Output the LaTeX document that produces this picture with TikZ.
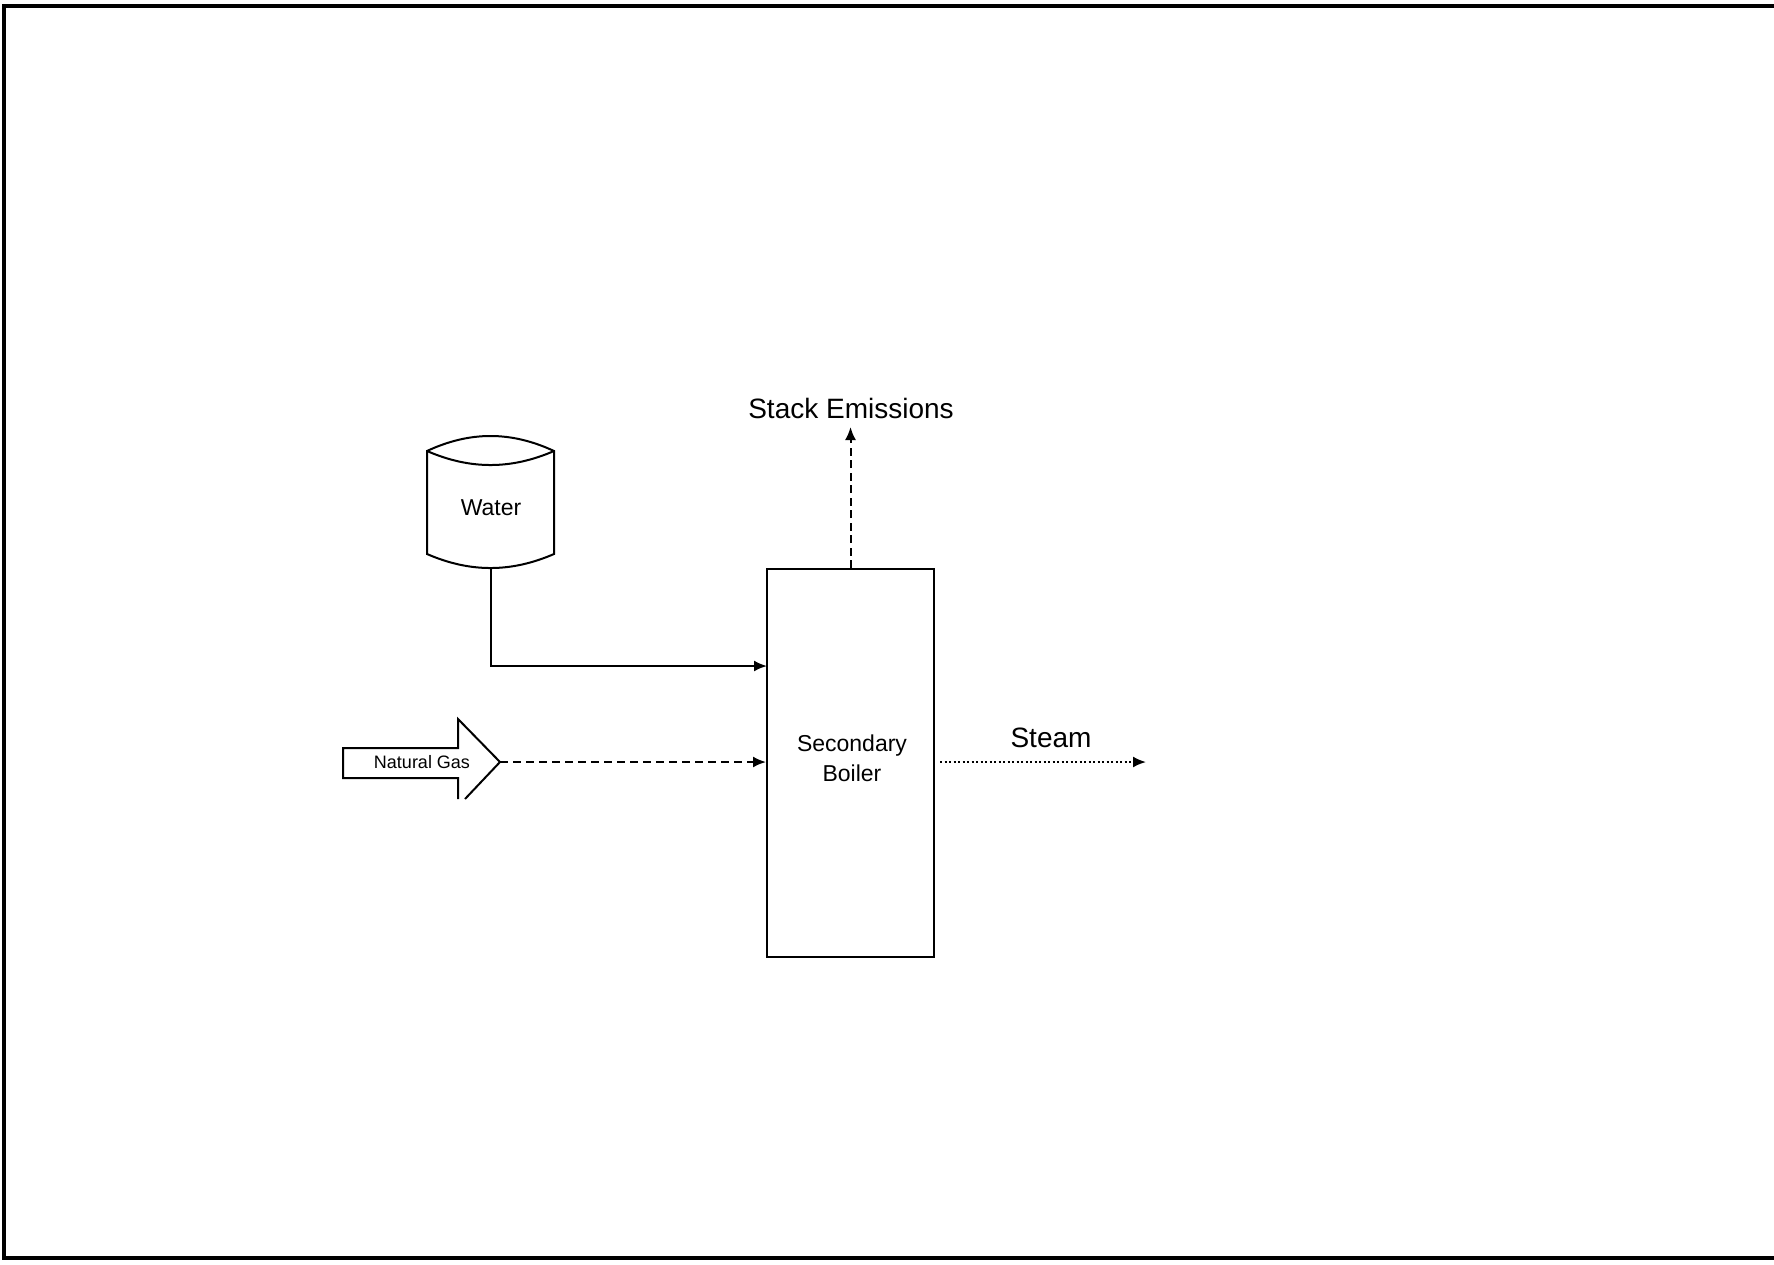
\documentclass[tikz,border=0pt]{standalone}
\usepackage{fontspec}
\setmainfont{Liberation Sans}
\usetikzlibrary{arrows.meta}
\begin{document}
\begin{tikzpicture}[x=1pt,y=-1pt,
  line width=2pt,
  flowtip/.style={-{Latex[length=13pt,width=11pt]}},
  big/.style={font=\fontsize{28}{32}\selectfont, inner sep=0pt},
  mid/.style={font=\fontsize{23}{30}\selectfont, inner sep=0pt, align=center},
  small/.style={font=\fontsize{18}{20}\selectfont, inner sep=0pt},
  gasdash/.style={dash pattern=on 8pt off 5pt},
  stackdash/.style={dash pattern=on 8pt off 4.5pt},
  steamdot/.style={dash pattern=on 2pt off 2.5pt}
]
\useasboundingbox (0,0) rectangle (1774,1265);
% frame (open on the right)
\draw[line width=4pt] (1774,6) -- (4,6) -- (4,1258) -- (1774,1258);

% water tank
\node[minimum width=127pt, minimum height=132pt, inner sep=0pt] (water) at (490.5,502) {};
\draw (427,451) -- (427,554) .. controls (470,572.7) and (511,572.7) .. (554,554)
      -- (554,451) .. controls (511,431) and (470,431) .. (427,451) -- cycle;
\draw (427,451) .. controls (470,469.7) and (511,469.7) .. (554,451);
\node[mid] (watertext) at (491,508) {Water};

% boiler
\node[draw, minimum width=167pt, minimum height=388pt, inner sep=0pt] (boiler) at (850.5,763) {};
\node[mid] (boilertext) at (852,758) {Secondary\\Boiler};

% natural gas block arrow
\coordinate (gastip) at (500,762);
\draw (465,799) -- (gastip) -- (458,719) -- (458,748) -- (343,748) -- (343,778) -- (458,778) -- (458,799);
\node[small] (gastext) at (422,762) {Natural Gas};

% stack emissions
\node[big] (stack) at (851,408) {Stack Emissions};
\coordinate (stacktip) at (850.5,427);
\draw[flowtip, stackdash] (boiler.north) -- (stacktip);

% water feed
\coordinate (waterin) at (767,666);
\draw[flowtip] (water.south) |- (waterin);

% gas feed
\draw[flowtip, gasdash] (gastip) -- (boiler.west |- gastip);

% steam
\node[big] (steam) at (1051,738) {Steam};
\coordinate (steamend) at (1146,762);
\draw[flowtip, steamdot, shorten <=5pt] (boiler.east |- steamend) -- (steamend);
\end{tikzpicture}
\end{document}
